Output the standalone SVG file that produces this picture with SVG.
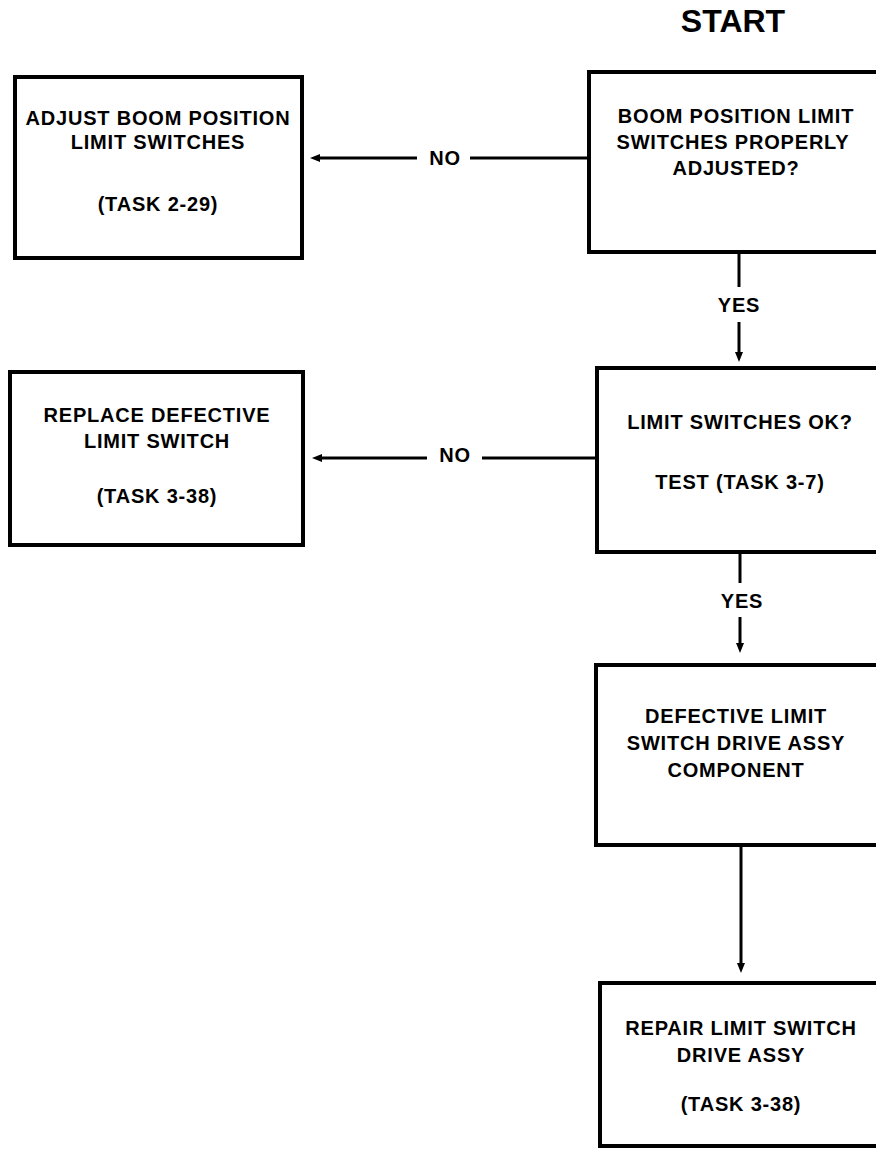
<svg xmlns="http://www.w3.org/2000/svg" width="876" height="1149" viewBox="0 0 876 1149">
<style>
.box{fill:#fff;stroke:#000;stroke-width:4}
.t{font-family:"Liberation Sans",Arial,sans-serif;font-weight:bold;font-size:20px;letter-spacing:0.8px;text-anchor:middle;fill:#000}
.lbl{font-family:"Liberation Sans",Arial,sans-serif;font-weight:bold;font-size:20px;letter-spacing:0.8px;text-anchor:middle;fill:#000}
.c{stroke:#000;stroke-width:3;fill:none}
</style>
<defs>
<marker id="ah" viewBox="0 0 10 8" refX="5" refY="4" markerWidth="10" markerHeight="8" markerUnits="userSpaceOnUse" orient="auto">
<path d="M0,0 L10,4 L0,8 z" fill="#000"/>
</marker>
</defs>
<rect width="876" height="1149" fill="#fff"/>
<text x="733" y="32" font-family="Liberation Sans, Arial, sans-serif" font-weight="bold" font-size="32" text-anchor="middle">START</text>

<g id="node-boom-check">
<rect class="box" x="589" y="72" width="293" height="180"/>
<text class="t" x="736" y="123">BOOM POSITION LIMIT</text>
<text class="t" x="733" y="149">SWITCHES PROPERLY</text>
<text class="t" x="736" y="175">ADJUSTED?</text>
</g>

<g id="node-adjust">
<rect class="box" x="15" y="77" width="287" height="181"/>
<text class="t" x="158" y="125">ADJUST BOOM POSITION</text>
<text class="t" x="158" y="149">LIMIT SWITCHES</text>
<text class="t" x="158" y="211">(TASK 2-29)</text>
</g>

<g id="node-limit-ok">
<rect class="box" x="597" y="368" width="285" height="184"/>
<text class="t" x="740" y="429">LIMIT SWITCHES OK?</text>
<text class="t" x="740" y="489">TEST (TASK 3-7)</text>
</g>

<g id="node-replace">
<rect class="box" x="10" y="372" width="293" height="173"/>
<text class="t" x="157" y="422">REPLACE DEFECTIVE</text>
<text class="t" x="157" y="448">LIMIT SWITCH</text>
<text class="t" x="157" y="503">(TASK 3-38)</text>
</g>

<g id="node-defective">
<rect class="box" x="596" y="665" width="286" height="180"/>
<text class="t" x="736" y="723">DEFECTIVE LIMIT</text>
<text class="t" x="736" y="750">SWITCH DRIVE ASSY</text>
<text class="t" x="736" y="777">COMPONENT</text>
</g>

<g id="node-repair">
<rect class="box" x="600" y="983" width="282" height="163"/>
<text class="t" x="741" y="1035">REPAIR LIMIT SWITCH</text>
<text class="t" x="741" y="1062">DRIVE ASSY</text>
<text class="t" x="741" y="1111">(TASK 3-38)</text>
</g>

<g id="connectors">
<line class="c" x1="588" y1="158" x2="470" y2="158"/>
<line class="c" x1="417" y1="158" x2="315" y2="158" marker-end="url(#ah)"/>
<text class="lbl" x="445" y="165">NO</text>

<line class="c" x1="597" y1="458" x2="482" y2="458"/>
<line class="c" x1="427" y1="458" x2="317" y2="458" marker-end="url(#ah)"/>
<text class="lbl" x="455" y="462">NO</text>

<line class="c" x1="739" y1="252" x2="739" y2="287"/>
<text class="lbl" x="739" y="312">YES</text>
<line class="c" x1="739" y1="322" x2="739" y2="357" marker-end="url(#ah)"/>

<line class="c" x1="740" y1="552" x2="740" y2="583"/>
<text class="lbl" x="742" y="608">YES</text>
<line class="c" x1="740" y1="617" x2="740" y2="648" marker-end="url(#ah)"/>

<line class="c" x1="741" y1="845" x2="741" y2="968" marker-end="url(#ah)"/>
</g>
</svg>
